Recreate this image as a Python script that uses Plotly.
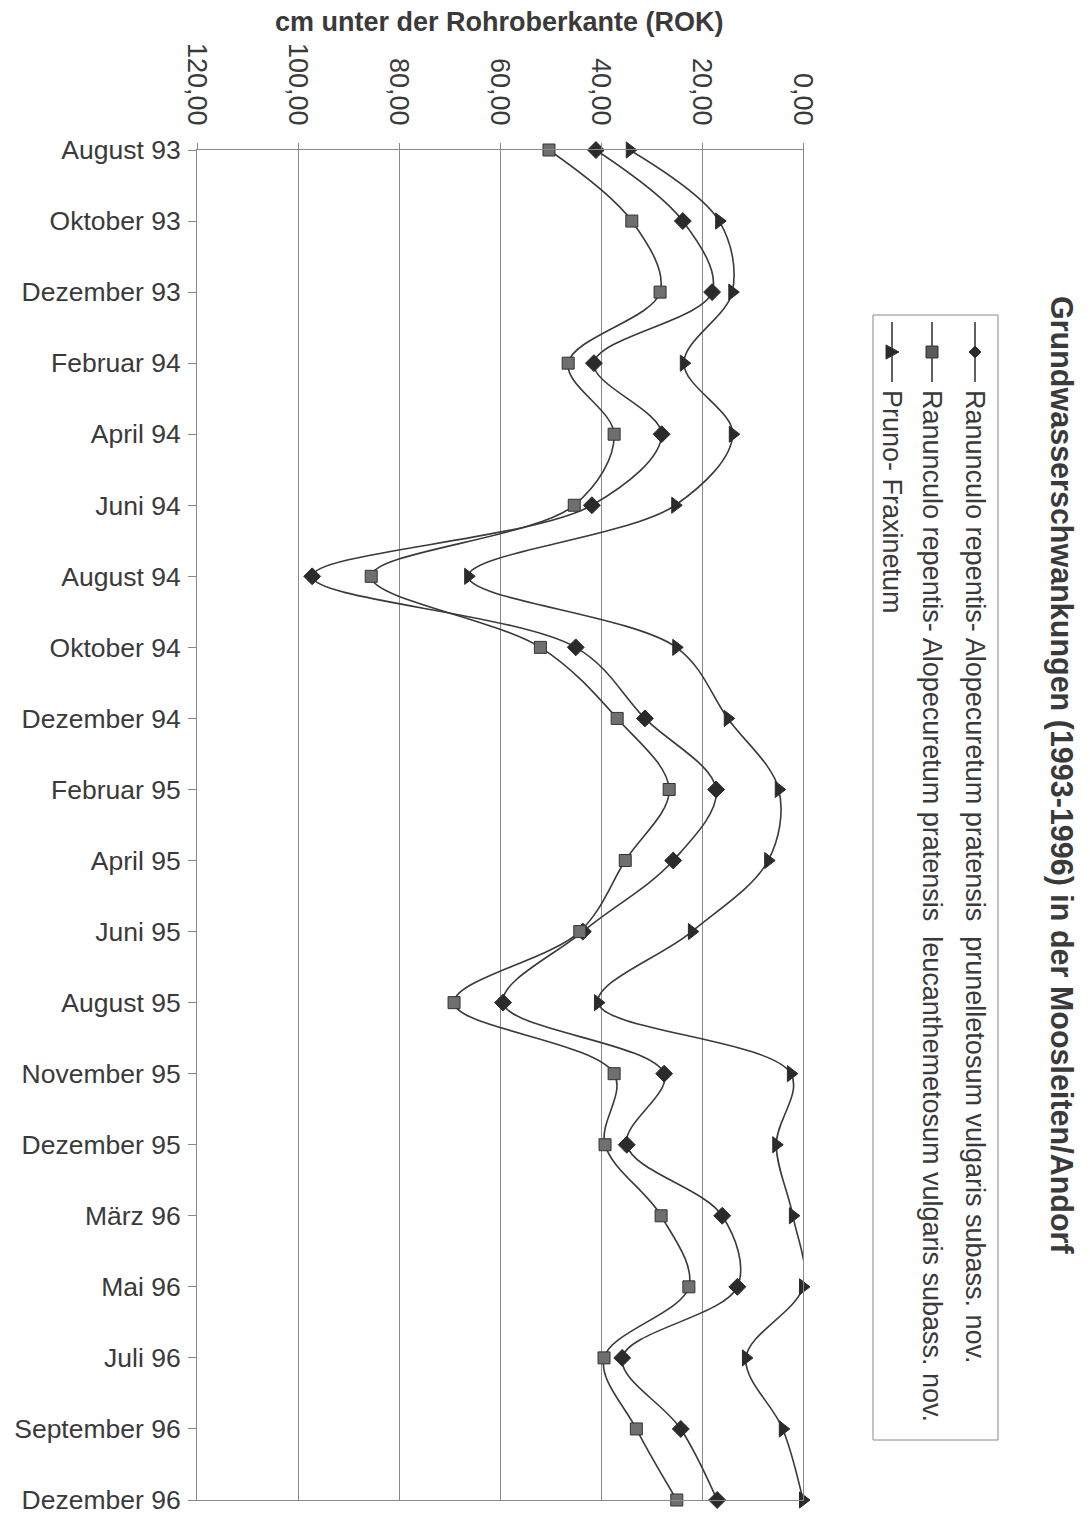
import plotly.graph_objects as go

months = ["August 93", "Oktober 93", "Dezember 93", "Februar 94", "April 94", "Juni 94",
          "August 94", "Oktober 94", "Dezember 94", "Februar 95", "April 95", "Juni 95",
          "August 95", "November 95", "Dezember 95", "März 96", "Mai 96", "Juli 96",
          "September 96", "Dezember 96"]

prunelletosum = [41.0, 23.8, 18.0, 41.4, 28.0, 41.8, 97.2, 45.0, 31.3, 17.2,
                 25.7, 43.6, 59.4, 27.5, 34.9, 16.0, 13.0, 35.8, 24.2, 17.0]
leucanthemetosum = [50.3, 33.9, 28.3, 46.5, 37.4, 45.3, 85.5, 52.0, 36.8, 26.5,
                    35.2, 44.2, 69.1, 37.4, 39.2, 28.1, 22.6, 39.4, 33.0, 25.0]
fraxinetum = [34.3, 16.6, 14.0, 23.6, 13.9, 25.3, 66.3, 25.1, 14.9, 4.8,
              6.9, 22.0, 40.6, 2.4, 5.3, 2.0, 0.0, 11.3, 4.0, 0.0]

series_names = [
    "Ranunculo repentis- Alopecuretum pratensis  prunelletosum vulgaris subass. nov.",
    "Ranunculo repentis- Alopecuretum pratensis  leucanthemetosum vulgaris subass. nov.",
    "Pruno- Fraxinetum",
]
x_ticks = [0, 20, 40, 60, 80, 100, 120]

W, H = 1090, 1515
OFF = 8  # page body margin
FONT = "Liberation Sans, Arial, sans-serif"
TXT = "#3a3a3a"
LINE = "#3a3a3a"
GRID = "#8a8a8a"


def px(x):
    return (x - OFF) / W


def py(y):
    return 1 - (y - OFF) / H


fig = go.Figure()
styles = [
    dict(symbol="diamond", size=13, color="#2b2b2b", line=dict(color="#2b2b2b", width=1)),
    dict(symbol="square", size=12, color="#6f6f6f", line=dict(color="#333333", width=1)),
    dict(symbol="triangle-right", size=14, color="#2b2b2b", line=dict(color="#2b2b2b", width=1)),
]
for name, vals, st in zip(series_names, [prunelletosum, leucanthemetosum, fraxinetum], styles):
    fig.add_trace(go.Scatter(
        x=vals, y=months, mode="lines+markers", name=name,
        line=dict(color=LINE, width=1.6, shape="spline", smoothing=1.0),
        marker=st, showlegend=False, cliponaxis=False,
    ))

fig.update_layout(
    width=W, height=H,
    margin=dict(l=0, r=0, t=0, b=0),
    paper_bgcolor="white", plot_bgcolor="white",
    separators=",.",
    font=dict(family=FONT, color=TXT),
    xaxis=dict(
        domain=[px(197), px(803)], range=[120, 0], side="top",
        tickvals=x_ticks, tickformat=".2f", tickangle=90,
        tickfont=dict(size=27, color=TXT), ticklabelstandoff=8,
        showgrid=True, gridcolor=GRID, gridwidth=1,
        showline=True, linecolor=GRID, linewidth=1, mirror=True,
        ticks="outside", ticklen=6, tickcolor=GRID, zeroline=False,
        automargin=False,
    ),
    yaxis=dict(
        domain=[py(1500), py(150)], type="category", categoryorder="array",
        categoryarray=months, range=[len(months) - 1, 0],
        tickfont=dict(size=26.5, color=TXT), ticklabelstandoff=2, showgrid=False,
        showline=True, linecolor=GRID, linewidth=1, mirror=True,
        ticks="outside", ticklen=8, tickcolor=GRID, zeroline=False,
        automargin=False,
    ),
)

annotations = [
    dict(text="<b>cm unter der Rohroberkante (ROK)</b>", x=px(499), y=py(22),
         xref="paper", yref="paper", showarrow=False, font=dict(size=27, color=TXT),
         xanchor="center", yanchor="middle"),
    dict(text="<b>Grundwasserschwankungen (1993-1996) in der Moosleiten/Andorf</b>",
         x=px(1062), y=py(775), xref="paper", yref="paper", showarrow=False,
         textangle=90, font=dict(size=30.5, color=TXT), xanchor="center", yanchor="middle"),
]

shapes = [dict(type="rect", xref="paper", yref="paper",
               x0=px(873), x1=px(998), y0=py(1440), y1=py(315),
               line=dict(color=GRID, width=1), fillcolor="rgba(0,0,0,0)")]

entry_x = [975, 932, 892]
for i, (ex, name) in enumerate(zip(entry_x, series_names)):
    shapes.append(dict(type="line", xref="paper", yref="paper",
                       x0=px(ex), x1=px(ex), y0=py(322), y1=py(382),
                       line=dict(color=LINE, width=1.6)))
    cy = 352
    if i == 0:
        path = f"M {px(ex-6)} {py(cy)} L {px(ex)} {py(cy-6)} L {px(ex+6)} {py(cy)} L {px(ex)} {py(cy+6)} Z"
        fill = "#2b2b2b"
    elif i == 1:
        path = f"M {px(ex-6)} {py(cy-6)} L {px(ex+6)} {py(cy-6)} L {px(ex+6)} {py(cy+6)} L {px(ex-6)} {py(cy+6)} Z"
        fill = "#5a5a5a"
    else:
        path = f"M {px(ex-6)} {py(cy-7)} L {px(ex+7)} {py(cy)} L {px(ex-6)} {py(cy+7)} Z"
        fill = "#2b2b2b"
    shapes.append(dict(type="path", xref="paper", yref="paper", path=path,
                       fillcolor=fill, line=dict(color="#333333", width=1)))
    annotations.append(dict(text=name, x=px(ex), y=py(388), xref="paper", yref="paper",
                            showarrow=False, textangle=90, font=dict(size=27, color=TXT),
                            xanchor="center", yanchor="top"))

fig.update_layout(annotations=annotations, shapes=shapes)
fig.write_html("out.html")
